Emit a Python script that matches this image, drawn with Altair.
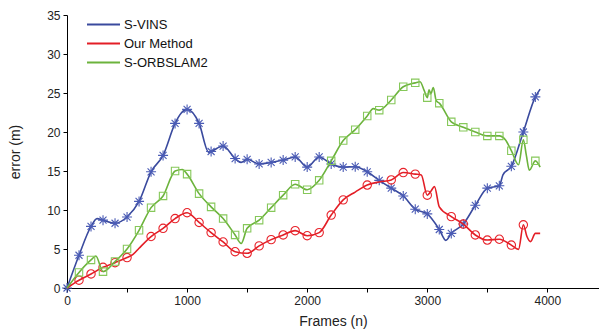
import altair as alt
import pandas as pd

# Localisation error (m) against frame index for the three methods.
series_names = ["S-VINS", "Our Method", "S-ORBSLAM2"]
line_colors = ["#3a4a9e", "#e31e26", "#6cb33c"]
marker_colors = ["#4a5bb5", "#e8232b", "#86c85a"]
marker_shapes = [
    "M-1,0L1,0M0,-1L0,1M-0.7,-0.7L0.7,0.7M-0.7,0.7L0.7,-0.7",
    "circle",
    "square",
]
marker_sizes = [100, 70, 55]

vins_frames = [0, 100, 200, 250, 300, 400, 500, 600, 700, 800, 900, 950, 1000,
               1100, 1180, 1200, 1300, 1400, 1450, 1500, 1600, 1700, 1800, 1900,
               2000, 2100, 2200, 2300, 2400, 2500, 2600, 2700, 2800, 2900, 3000,
               3100, 3155, 3200, 3300, 3400, 3500, 3600, 3630, 3700, 3800, 3900,
               3940]
vins_error = [0, 4.2, 7.9, 8.9, 8.7, 8.3, 9.1, 11.1, 14.9, 17.0, 21.1, 22.4, 22.9,
              21.1, 17.4, 17.5, 18.2, 16.6, 16.1, 16.5, 15.9, 16.1, 16.4, 16.8,
              15.5, 16.8, 15.9, 15.5, 15.55, 14.9, 13.8, 12.8, 11.8, 10.1, 9.5,
              7.5, 6.1, 7.0, 8.2, 10.6, 12.8, 13.1, 14.5, 15.6, 20.0, 24.5,
              25.5]
vins_markers = [0, 100, 200, 300, 400, 500, 600, 700, 800, 900, 1000, 1100, 1200,
                1300, 1400, 1500, 1600, 1700, 1800, 1900, 2000, 2100, 2200, 2300,
                2400, 2500, 2600, 2700, 2800, 2900, 3000, 3100, 3200, 3300, 3400,
                3500, 3600, 3700, 3800, 3900]

ours_frames = [0, 100, 200, 300, 400, 500, 550, 600, 700, 800, 900, 1000, 1100,
               1200, 1300, 1400, 1500, 1600, 1700, 1800, 1900, 2000, 2100, 2200,
               2300, 2400, 2500, 2600, 2700, 2800, 2900, 2950, 3000, 3030, 3060,
               3100, 3200, 3300, 3400, 3500, 3600, 3700, 3760, 3800, 3830, 3860,
               3900, 3940]
ours_error = [0, 1.0, 1.8, 2.65, 3.25, 3.9, 4.3, 5.1, 6.6, 7.65, 8.9, 9.65, 8.4,
              7.1, 5.9, 4.65, 4.45, 5.4, 6.2, 6.8, 7.35, 6.7, 7.1, 9.35,
              11.3, 12.3, 13.2, 13.6, 13.85, 14.8, 14.6, 14.5, 11.9, 12.4, 13.0,
              10.4, 9.15, 8.2, 6.8, 6.15, 6.25, 5.5, 4.95, 8.1, 6.6, 5.95,
              7.0, 7.0]
ours_markers = [100, 200, 300, 400, 500, 700, 800, 900, 1000, 1100, 1200, 1300,
                1400, 1500, 1600, 1700, 1800, 1900, 2000, 2100, 2200, 2300, 2500,
                2700, 2800, 2900, 3000, 3200, 3300, 3400, 3500, 3600, 3700, 3800]

orb_frames = [0, 100, 200, 240, 300, 400, 500, 600, 700, 800, 900, 960, 1000,
              1100, 1200, 1300, 1400, 1450, 1500, 1600, 1700, 1800, 1900, 2000,
              2100, 2200, 2300, 2400, 2500, 2550, 2600, 2700, 2800, 2900, 2940,
              2975, 3000, 3015, 3030, 3050, 3075, 3100, 3200, 3300, 3400, 3500,
              3600, 3650, 3700, 3760, 3800, 3825, 3850, 3900, 3940]
orb_error = [0, 2.0, 3.6, 4.1, 2.1, 3.4, 5.0, 7.4, 10.3, 11.8, 15.0, 15.2, 14.6,
             12.1, 10.4, 8.9, 6.8, 5.7, 7.65, 8.7, 10.3, 11.9, 13.3, 12.6,
             13.8, 16.3, 18.9, 20.3, 22.05, 23.0, 22.8, 24.1, 25.8, 26.3, 26.45,
             25.3, 24.4, 25.4, 24.9, 25.7, 24.0, 23.7, 21.3, 20.6, 20.0, 19.5,
             19.5, 19.0, 17.6, 15.8, 19.0, 17.0, 15.1, 16.3, 15.5]
orb_markers = [100, 200, 300, 400, 500, 600, 700, 800, 900, 1000, 1100, 1200,
               1300, 1400, 1500, 1600, 1700, 1800, 1900, 2000, 2100, 2200, 2300,
               2400, 2500, 2600, 2700, 2800, 2900, 3000, 3100, 3200, 3300, 3400,
               3500, 3600, 3700, 3800, 3900]

x_ticks = [0, 500, 1000, 1500, 2000, 2500, 3000, 3500, 4000]
y_ticks = [0, 5, 10, 15, 20, 25, 30, 35]

tables = []
for name, fr, er, mk in zip(
    series_names,
    [vins_frames, ours_frames, orb_frames],
    [vins_error, ours_error, orb_error],
    [vins_markers, ours_markers, orb_markers],
):
    t = pd.DataFrame({"frame": fr, "error": er, "series": name})
    t["marker"] = t["frame"].isin(mk)
    tables.append(t)
df = pd.concat(tables, ignore_index=True)

FONT = "Liberation Sans"

x_enc = alt.X(
    "frame:Q",
    scale=alt.Scale(domain=[0, 4430], nice=False, zero=False),
    axis=alt.Axis(
        title="Frames (n)",
        values=x_ticks,
        format="d",
        labelExpr="datum.value % 1000 === 0 ? datum.label : ''",
        labelFlush=False,
        labelOverlap=False,
        grid=False,
        tickSize=4,
        labelPadding=3,
        titlePadding=8,
    ),
)
y_enc = alt.Y(
    "error:Q",
    scale=alt.Scale(domain=[0, 35], nice=False, zero=False),
    axis=alt.Axis(
        title="error (m)",
        values=y_ticks,
        labelFlush=False,
        labelOverlap=False,
        grid=False,
        tickSize=4,
        labelPadding=3,
        titlePadding=24,
    ),
)

line_legend = alt.Legend(
    title=None,
    orient="none",
    legendX=30,
    legendY=3,
    symbolType="M-3,0L3,0",
    symbolSize=121,
    symbolStrokeWidth=1.8,
    labelOffset=14,
    labelFontSize=13,
    labelFont=FONT,
    labelColor="#111",
    rowPadding=5,
)
color_enc = alt.Color(
    "series:N",
    scale=alt.Scale(domain=series_names, range=line_colors),
    sort=series_names,
    legend=line_legend,
)

# each series: its line, then its open markers on top
layers = []
for name, col, shp, sz in zip(series_names, marker_colors, marker_shapes, marker_sizes):
    layers.append(
        alt.Chart(df)
        .transform_filter(alt.datum.series == name)
        .mark_line(strokeWidth=1.6, interpolate="monotone")
        .encode(x=x_enc, y=y_enc, color=color_enc, order="frame:Q")
    )
    layers.append(
        alt.Chart(df)
        .transform_filter((alt.datum.series == name) & alt.datum.marker)
        .mark_point(shape=shp, size=sz, color=col, filled=False, strokeWidth=1.1, opacity=1)
        .encode(x=x_enc, y=y_enc)
    )

chart = (
    alt.layer(*layers)
    .properties(
        width=532,
        height=273,
        autosize=alt.AutoSizeParams(type="none"),
        padding={"left": 67, "top": 15, "right": 0, "bottom": 43},
        background="white",
    )
    .configure_view(stroke=None)
    .configure_axis(
        labelFont=FONT,
        titleFont=FONT,
        labelFontSize=12,
        titleFontSize=14,
        titleFontWeight="normal",
        labelColor="#222",
        titleColor="#222",
        domainColor="#000",
        tickColor="#000",
        domainWidth=1,
        tickWidth=1,
    )
)

chart.save("out.html", embed_options={"renderer": "svg", "actions": False})
